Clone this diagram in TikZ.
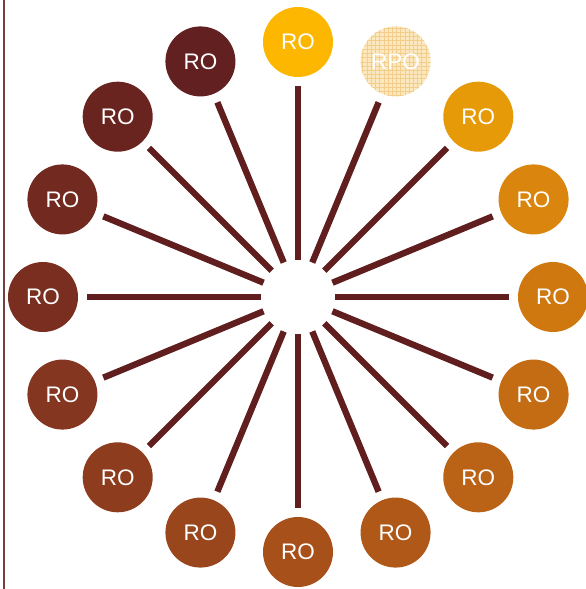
\documentclass[tikz,border=0pt]{standalone}
\usepackage{fontspec}
\setmainfont{Liberation Sans}
\usepackage{tikz}
\usetikzlibrary{patterns}

\definecolor{spoke}{RGB}{96,30,30}
\definecolor{edge}{RGB}{120,62,62}
\definecolor{ro0}{RGB}{99,32,32}
\definecolor{ro1}{RGB}{106,36,32}
\definecolor{ro2}{RGB}{114,42,32}
\definecolor{ro3}{RGB}{122,46,32}
\definecolor{ro4}{RGB}{132,54,32}
\definecolor{ro5}{RGB}{142,60,30}
\definecolor{ro6}{RGB}{154,70,28}
\definecolor{ro7}{RGB}{168,80,26}
\definecolor{ro8}{RGB}{176,88,24}
\definecolor{ro9}{RGB}{186,98,22}
\definecolor{ro10}{RGB}{196,108,20}
\definecolor{ro11}{RGB}{208,120,16}
\definecolor{ro12}{RGB}{218,134,14}
\definecolor{ro13}{RGB}{230,154,8}
\definecolor{roTop}{RGB}{253,183,0}
\definecolor{rpoBack}{RGB}{252,232,190}
\definecolor{rpoGrid}{RGB}{243,205,140}

\tikzset{
  office/.style={circle,minimum size=1.75cm,inner sep=0pt,text=white,
    font=\fontsize{16}{19}\selectfont},
  hub/.style={circle,minimum size=1.85cm,inner sep=0pt},
  spoke/.style={draw=spoke,line width=4.5pt,shorten >=0.225cm}
}

\begin{document}
\begin{tikzpicture}
      \useasboundingbox (-7.45,-7.3) rectangle (7.175,7.425);
      \draw[edge,line width=1pt] (-7.35,-7.3) -- (-7.35,7.425);

      \node[hub] (hub) at (0,0) {};

      \node[office,fill=roTop] (top) at (90:6.375) {RO};
      \node[office,preaction={fill=rpoBack},pattern=grid,pattern color=rpoGrid] (rpo) at (67.5:6.375) {RPO};
      \node[office,fill=ro0] (r0) at (112.5:6.375) {RO};
      \node[office,fill=ro1] (r1) at (135:6.375) {RO};
      \node[office,fill=ro2] (r2) at (157.5:6.375) {RO};
      \node[office,fill=ro3] (r3) at (180:6.375) {RO};
      \node[office,fill=ro4] (r4) at (202.5:6.375) {RO};
      \node[office,fill=ro5] (r5) at (225:6.375) {RO};
      \node[office,fill=ro6] (r6) at (247.5:6.375) {RO};
      \node[office,fill=ro7] (r7) at (270:6.375) {RO};
      \node[office,fill=ro8] (r8) at (292.5:6.375) {RO};
      \node[office,fill=ro9] (r9) at (315:6.375) {RO};
      \node[office,fill=ro10] (r10) at (337.5:6.375) {RO};
      \node[office,fill=ro11] (r11) at (0:6.375) {RO};
      \node[office,fill=ro12] (r12) at (22.5:6.375) {RO};
      \node[office,fill=ro13] (r13) at (45:6.375) {RO};

      \draw[spoke] (hub) -- (top);
      \draw[spoke] (hub) -- (rpo);
      \draw[spoke] (hub) -- (r0);
      \draw[spoke] (hub) -- (r1);
      \draw[spoke] (hub) -- (r2);
      \draw[spoke] (hub) -- (r3);
      \draw[spoke] (hub) -- (r4);
      \draw[spoke] (hub) -- (r5);
      \draw[spoke] (hub) -- (r6);
      \draw[spoke] (hub) -- (r7);
      \draw[spoke] (hub) -- (r8);
      \draw[spoke] (hub) -- (r9);
      \draw[spoke] (hub) -- (r10);
      \draw[spoke] (hub) -- (r11);
      \draw[spoke] (hub) -- (r12);
      \draw[spoke] (hub) -- (r13);
\end{tikzpicture}
\end{document}
